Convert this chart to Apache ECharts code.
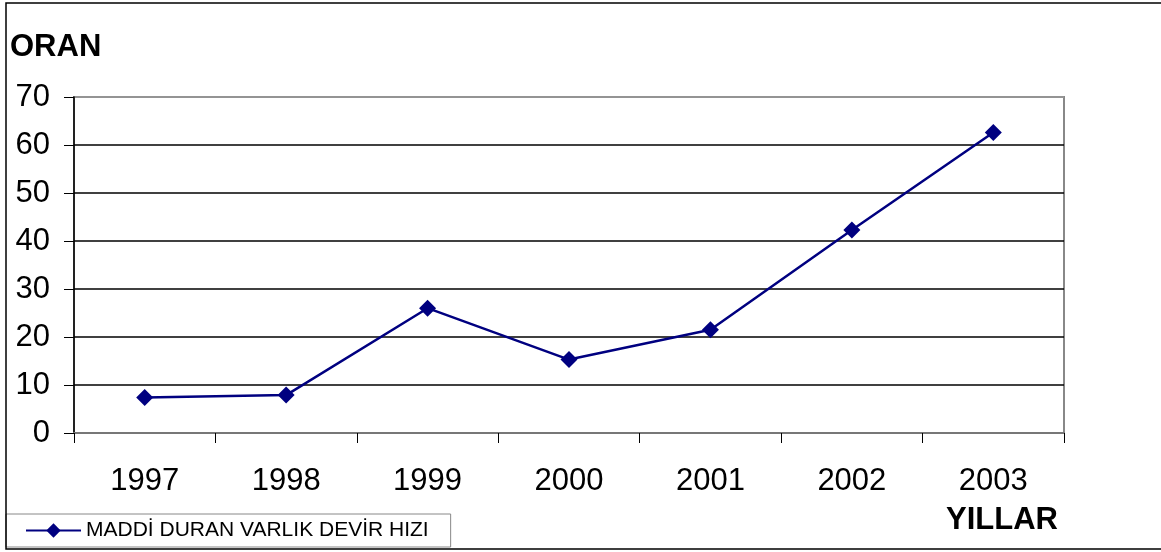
<!DOCTYPE html>
<html>
<head>
<meta charset="utf-8">
<script src="https://cdn.jsdelivr.net/npm/echarts@6/dist/echarts.min.js"></script>
<style>html,body{margin:0;padding:0;background:#fff}#c{width:1161px;height:552px}</style>
</head>
<body>
<div id="c"></div>
<script>
const years = ['1997','1998','1999','2000','2001','2002','2003'];
const values = [7.4, 7.9, 26.0, 15.3, 21.5, 42.3, 62.6];
const seriesName = 'MADDİ DURAN VARLIK DEVİR HIZI';
const yTitle = 'ORAN';
const xTitle = 'YILLAR';

const chart = echarts.init(document.getElementById('c'));
const font = '"Liberation Sans", Arial, sans-serif';
chart.setOption({
  backgroundColor: '#fff',
  animation: false,
  textStyle: { fontFamily: font },
  graphic: [
    { type: 'rect', shape: { x: 6, y: 3, width: 1160, height: 546 }, style: { fill: 'none', stroke: '#000', lineWidth: 1.5 }, z: 100 },
    { type: 'text', left: 10, top: 32, style: { text: yTitle, font: 'bold 31px ' + font, fill: '#000' } },
    { type: 'text', left: 946, top: 505, style: { text: xTitle, font: 'bold 31px ' + font, fill: '#000' } }
  ],
  legend: {
    left: 6, top: 514,
    data: [seriesName],
    itemWidth: 55, itemHeight: 18, itemGap: 4,
    padding: [6, 22, 6, 19],
    borderColor: '#888', borderWidth: 1,
    backgroundColor: '#fff',
    textStyle: { fontSize: 21, color: '#000', fontFamily: font }
  },
  grid: { left: 74, right: 97, top: 97, bottom: 119, show: true, borderColor: '#888', borderWidth: 2, backgroundColor: '#fff' },
  xAxis: {
    type: 'category', data: years, boundaryGap: true,
    axisLine: { lineStyle: { color: '#777', width: 2 } },
    axisTick: { show: true, length: 10, lineStyle: { color: '#000', width: 1 } },
    axisLabel: { fontSize: 31, color: '#000', margin: 33, fontFamily: font },
    splitLine: { show: false }
  },
  yAxis: {
    type: 'value', min: 0, max: 70, interval: 10,
    axisLine: { show: true, lineStyle: { color: '#000', width: 1.5 } },
    axisTick: { show: true, length: 10, lineStyle: { color: '#000' } },
    axisLabel: { fontSize: 31, color: '#000', margin: 24, fontFamily: font },
    splitLine: { show: true, lineStyle: { color: ['#888','#000','#000','#000','#000','#000','#000','#999'], width: 1.5 } }
  },
  series: [{
    name: seriesName, type: 'line', data: values,
    symbol: 'diamond', symbolSize: 17,
    itemStyle: { color: '#000080' },
    lineStyle: { color: '#000080', width: 2.5 }
  }]
});
</script>
</body>
</html>
